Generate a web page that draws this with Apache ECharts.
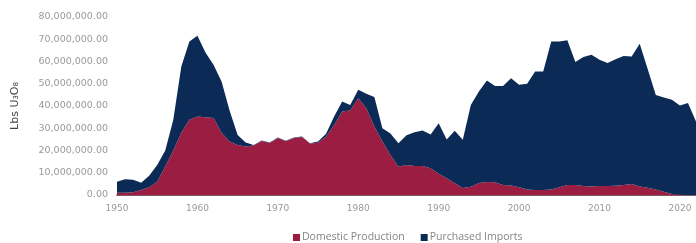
<!DOCTYPE html>
<html>
<head>
<meta charset="utf-8">
<script src="https://cdn.jsdelivr.net/npm/echarts@6/dist/echarts.min.js"></script>
<style>
  html, body { margin: 0; padding: 0; background: #fff; }
  #main { width: 696px; height: 243px; }
</style>
</head>
<body>
<div id="main"></div>
<script>
// 年份
var years = [];
for (var y = 1950; y <= 2022; y++) years.push(String(y));

// 国内产量 (百万磅)
var domestic = [
  1.0, 1.0, 1.2, 2.2, 3.5, 6.0, 12.8, 20.0, 28.0, 33.8,
  35.3, 35.0, 34.6, 28.0, 24.0, 22.5, 21.8, 22.3, 24.3, 23.4,
  25.6, 24.2, 25.6, 26.1, 23.1, 23.5, 26.3, 31.5, 37.5, 38.0,
  43.5, 39.0, 30.8, 24.0, 18.0, 12.7, 13.5, 13.0, 13.0, 12.0,
  9.5, 7.5, 5.3, 3.1, 3.7, 5.4, 5.8, 5.7, 4.5, 4.3,
  3.5, 2.5, 2.2, 2.2, 2.5, 3.5, 4.5, 4.5, 4.0, 3.8,
  4.0, 4.0, 4.2, 4.5, 5.0, 3.8, 3.3, 2.5, 1.5, 0.4,
  0.1, 0.05, 0.05
];
// 进口 (百万磅)
var imports = [
  5.0, 6.1, 5.6, 3.3, 5.2, 7.5, 7.2, 13.8, 29.8, 35.2,
  36.3, 29.0, 23.9, 23.0, 14.0, 4.5, 1.8, 0.2, 0.2, 0.2,
  0.2, 0.2, 0.2, 0.2, 0.2, 0.5, 1.2, 3.8, 4.5, 2.5,
  3.8, 6.5, 13.2, 6.0, 9.6, 10.6, 13.3, 15.2, 16.0, 15.2,
  22.8, 17.5, 23.6, 21.7, 36.7, 41.1, 45.7, 43.3, 44.5, 48.2,
  46.0, 47.5, 53.3, 53.3, 66.5, 65.5, 65.0, 55.3, 58.0, 59.2,
  56.8, 55.3, 56.8, 58.0, 57.3, 64.2, 53.2, 42.5, 42.3, 42.4,
  40.1, 41.25, 32.95
];
var seriesNames = ['Domestic Production', 'Purchased Imports'];
var colors = ['#9c1d42', '#0b2a55'];

var chart = echarts.init(document.getElementById('main'));
var option = {
  animation: false,
  color: colors,
  // 右侧故意为负：原图在2022年前被裁切
  grid: { left: 117, right: -4, top: 17, bottom: 48 },
  legend: {
    data: seriesNames,
    top: 227,
    left: 288,
    icon: 'rect',
    itemWidth: 7,
    itemHeight: 7,
    itemGap: 16,
    textStyle: { color: '#858585', fontSize: 10.5, fontFamily: 'Open Sans', padding: [0, 0, 0, -3] }
  },
  xAxis: {
    type: 'category',
    data: years,
    boundaryGap: false,
    axisLine: { show: true, lineStyle: { color: '#5a1f30', width: 1.5 } },
    axisTick: { show: false },
    splitLine: { show: false },
    axisLabel: {
      color: '#999',
      fontSize: 9,
      fontFamily: 'DejaVu Sans',
      margin: 9,
      interval: function (idx, val) { return Number(val) % 10 === 0; }
    }
  },
  yAxis: {
    type: 'value',
    min: 0,
    max: 80,
    interval: 10,
    name: 'Lbs U₃O₈',
    nameLocation: 'middle',
    nameRotate: 90,
    nameGap: 96,
    nameTextStyle: { color: '#444', fontSize: 11, fontFamily: 'DejaVu Sans' },
    axisLine: { show: false },
    axisTick: { show: false },
    splitLine: { show: false },
    axisLabel: {
      color: '#999',
      fontSize: 9.5,
      fontFamily: 'DejaVu Sans',
      margin: 9,
      formatter: function (v) {
        return (v * 1e6).toLocaleString('en-US', { minimumFractionDigits: 2, maximumFractionDigits: 2 });
      }
    }
  },
  series: [
    {
      name: seriesNames[0],
      type: 'line',
      stack: 'u',
      symbol: 'none',
      lineStyle: { width: 0 },
      areaStyle: { opacity: 1 },
      data: domestic
    },
    {
      name: seriesNames[1],
      type: 'line',
      stack: 'u',
      symbol: 'none',
      lineStyle: { width: 0 },
      areaStyle: { opacity: 1 },
      data: imports
    }
  ]
};
chart.setOption(option);
</script>
</body>
</html>
